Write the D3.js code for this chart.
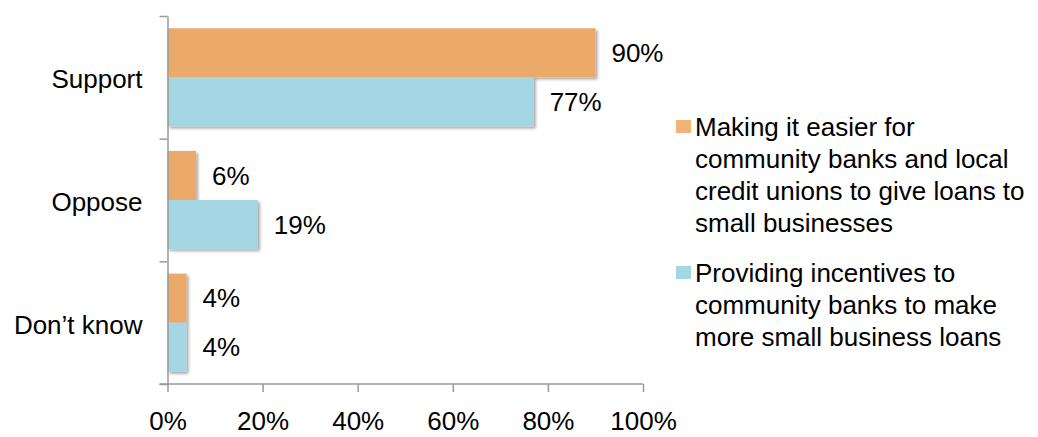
<!DOCTYPE html>
<html>
<head>
<meta charset="utf-8">
<script src="https://cdn.jsdelivr.net/npm/d3@7"></script>
<style>
  body { margin: 0; background: #fff; }
  text { font-family: "Liberation Sans", Arial, sans-serif; fill: #000; }
  .axis path, .axis line { stroke: #9a9a9a; stroke-width: 1.5; }
</style>
</head>
<body>
<script>
// chart data
var categories = ["Support", "Oppose", "Don\u2019t know"];
var seriesNames = [
  ["Making it easier for", "community banks and local", "credit unions to give loans to", "small businesses"],
  ["Providing incentives to", "community banks to make", "more small business loans"]
];
var easierValues = [90, 6, 4];
var incentiveValues = [77, 19, 4];
var xTicks = [0, 20, 40, 60, 80, 100];

var colors = ["#ecaa6b", "#a5d6e4"];
var legendColors = ["#f5b278", "#a5d6e4"];

var margin = {top: 16, left: 167.5, right: 395, bottom: 53};
var width = 1038 - margin.left - margin.right;
var height = 437 - margin.top - margin.bottom;

var svg = d3.select("body")
  .append("svg")
  .attr("width", 1038)
  .attr("height", 437);

var defs = svg.append("defs");
var shadow = defs.append("filter")
  .attr("id", "shadow")
  .attr("x", "-10%").attr("y", "-10%")
  .attr("width", "130%").attr("height", "140%");
shadow.append("feDropShadow")
  .attr("dx", 2).attr("dy", 2)
  .attr("stdDeviation", 1.8)
  .attr("flood-color", "#000")
  .attr("flood-opacity", 0.35);

var g = svg.append("g")
  .attr("transform", "translate(" + margin.left + "," + margin.top + ")");

var xScale = d3.scaleLinear().domain([0, 100]).range([0, width]);

var yScale = d3.scaleBand()
  .domain(categories)
  .range([0, height])
  .paddingInner(0.2)
  .paddingOuter(0.1);

var ySub = d3.scaleBand()
  .domain([0, 1])
  .range([0, yScale.bandwidth()]);

// band edges for the y ticks
var yEdge = d3.scaleLinear().domain([0, categories.length]).range([0, height]);

var series = [easierValues, incentiveValues];

series.forEach(function(vals, si) {
  var grp = g.append("g");
  grp.selectAll("rect")
    .data(vals)
    .enter()
    .append("rect")
    .attr("x", 0)
    .attr("y", function(d, i) { return yScale(categories[i]) + ySub(si); })
    .attr("width", function(d) { return xScale(d); })
    .attr("height", ySub.bandwidth())
    .attr("fill", colors[si])
    .attr("filter", "url(#shadow)");

  grp.selectAll("text")
    .data(vals)
    .enter()
    .append("text")
    .attr("x", function(d) { return xScale(d) + 16; })
    .attr("y", function(d, i) { return yScale(categories[i]) + ySub(si) + ySub.bandwidth() / 2; })
    .attr("dy", "0.35em")
    .style("font-size", "26px")
    .text(function(d) { return d + "%"; });
});

// y axis
g.append("g")
  .attr("class", "axis")
  .call(d3.axisLeft(yEdge).tickValues([0, 1, 2, 3]).tickFormat("").tickSize(8).tickSizeOuter(0));

// category labels
g.selectAll(".cat")
  .data(categories)
  .enter()
  .append("text")
  .attr("class", "cat")
  .attr("x", -25)
  .attr("y", function(d) { return yEdge(categories.indexOf(d) + 0.5) + 2; })
  .attr("dy", "0.35em")
  .attr("text-anchor", "end")
  .style("font-size", "26px")
  .text(function(d) { return d; });

// x axis
var xAxis = g.append("g")
  .attr("class", "axis")
  .attr("transform", "translate(0," + height + ")")
  .call(d3.axisBottom(xScale).tickValues(xTicks).tickSize(8).tickSizeOuter(0)
    .tickFormat(function(d) { return d + "%"; }));
xAxis.select(".domain").attr("d", "M-8,0H" + width);
xAxis.selectAll("text")
  .attr("y", 28)
  .attr("dy", "0.71em")
  .style("font-size", "26px")
  .style("fill", "#000")
  .style("font-family", "'Liberation Sans', Arial, sans-serif");

// legend
var legendTop = [127, 273];
var legend = svg.append("g");
seriesNames.forEach(function(lines, si) {
  legend.append("rect")
    .attr("x", 676)
    .attr("y", legendTop[si] - 7)
    .attr("width", 15)
    .attr("height", 13)
    .attr("fill", legendColors[si]);
  var t = legend.append("text")
    .attr("x", 695)
    .attr("y", legendTop[si])
    .style("font-size", "26px");
  lines.forEach(function(line, li) {
    t.append("tspan")
      .attr("x", 695)
      .attr("y", legendTop[si] + li * 32)
      .attr("dy", "0.35em")
      .text(line);
  });
});
</script>
</body>
</html>
